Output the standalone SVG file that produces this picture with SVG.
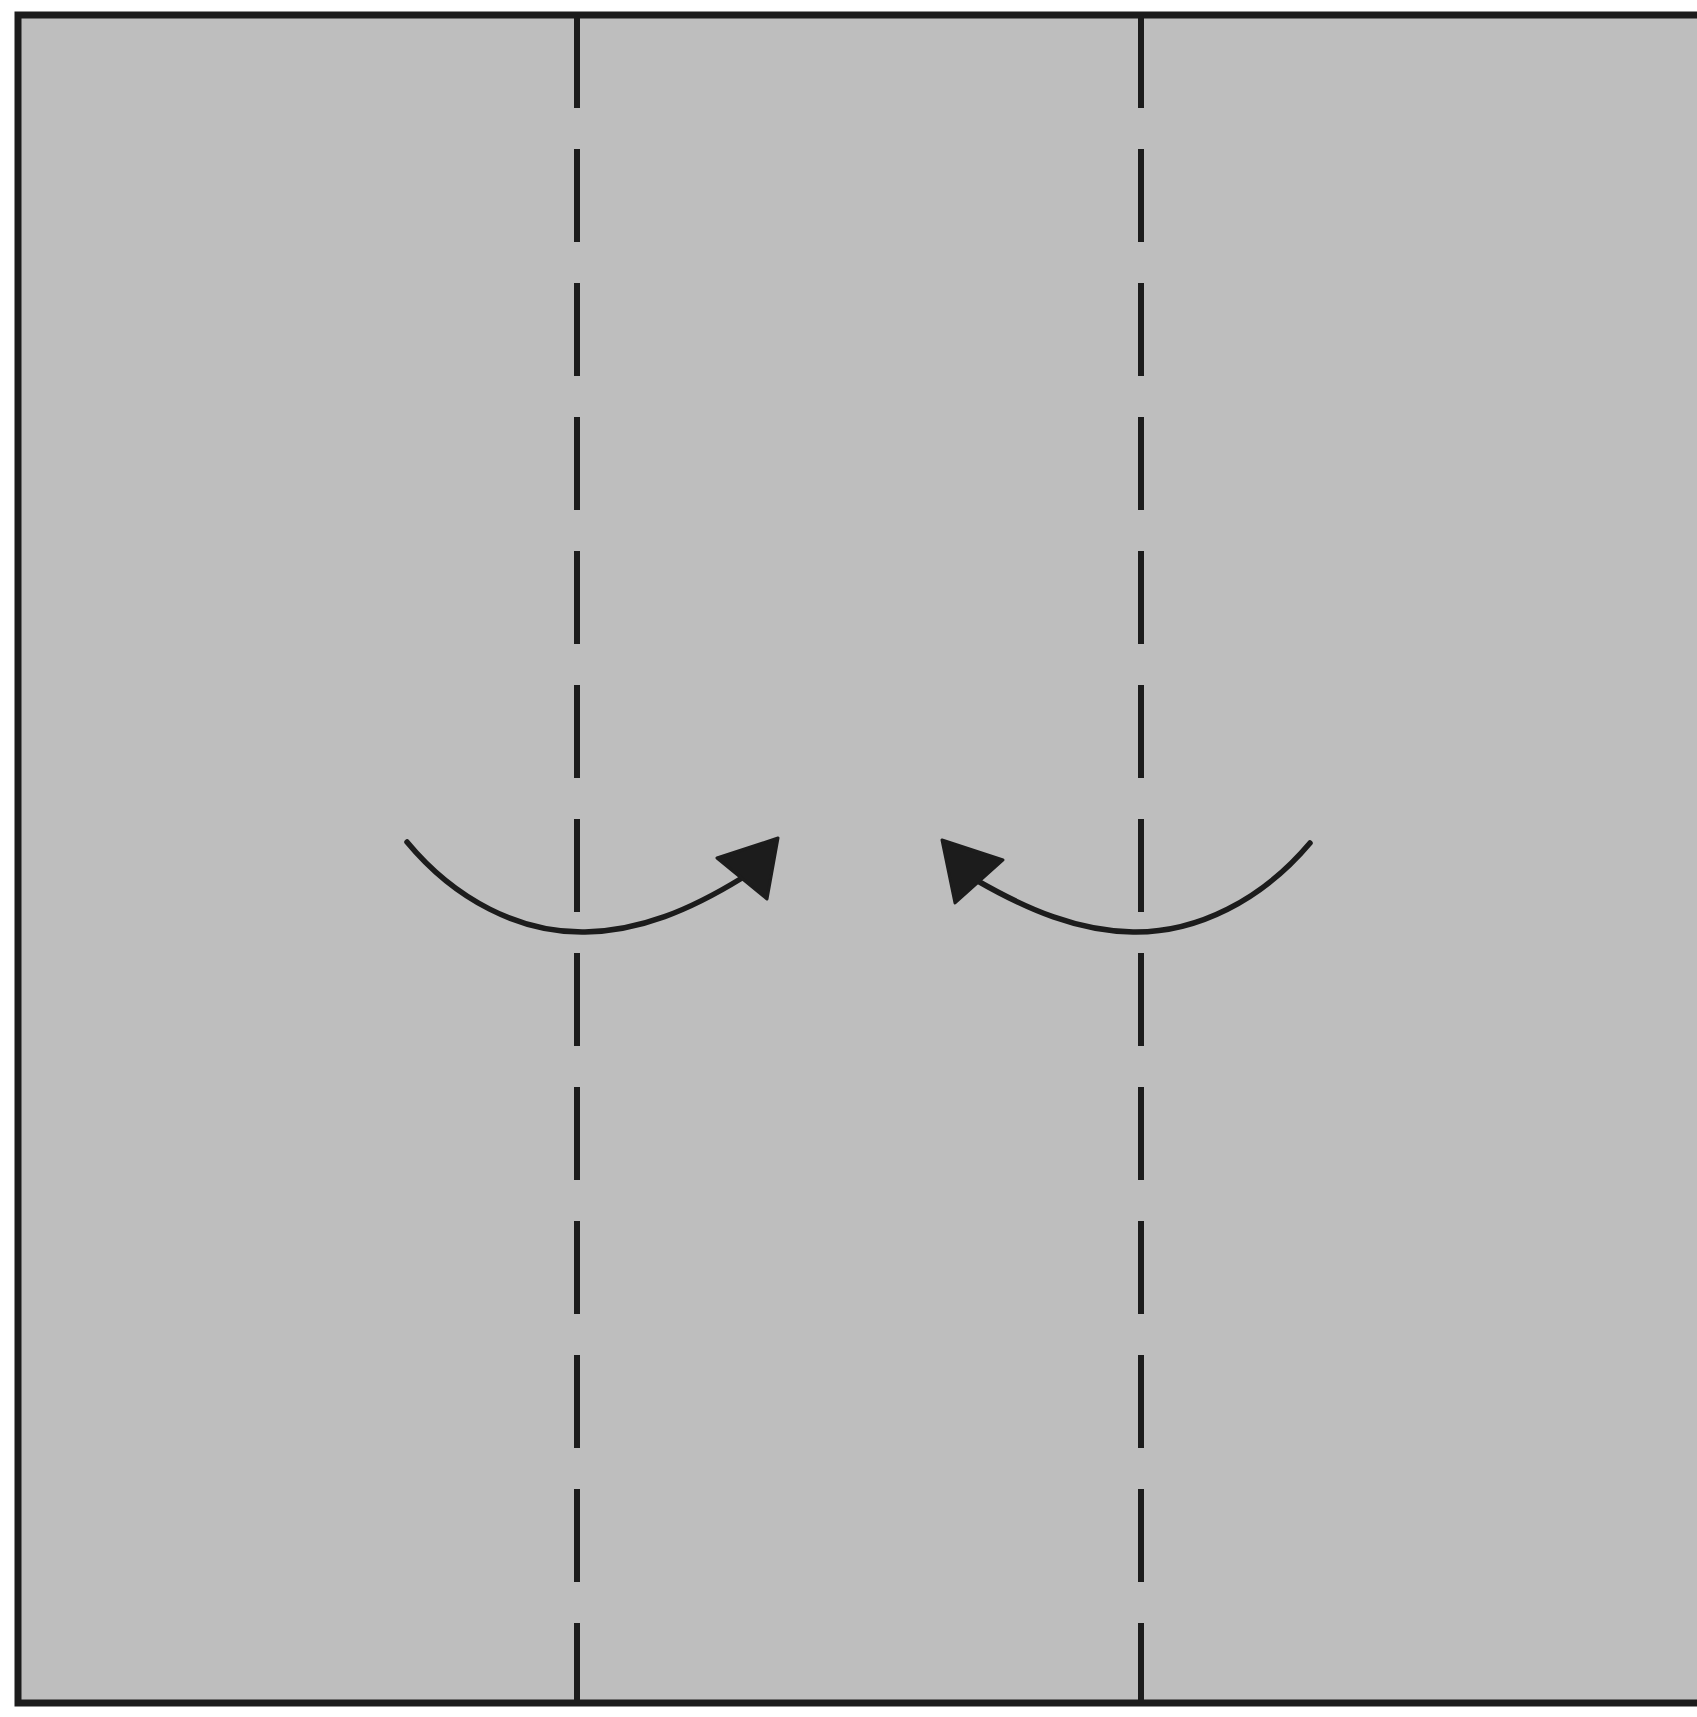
<svg xmlns="http://www.w3.org/2000/svg" width="1697" height="1717" viewBox="0 0 1697 1717">
  <style>
    .paper { fill: #bebebe; stroke: #1c1c1c; stroke-width: 7; }
    .fold { stroke: #1c1c1c; stroke-width: 6; stroke-dasharray: 93 41; fill: none; }
    .arrow { stroke: #1c1c1c; stroke-width: 5.5; fill: none; stroke-linecap: round; }
    .head { fill: #1c1c1c; stroke: #1c1c1c; stroke-width: 3; stroke-linejoin: round; }
  </style>
  <rect width="1697" height="1717" fill="#ffffff"/>
  <g id="paper">
    <rect class="paper" x="18" y="15" width="1690" height="1688"/>
  </g>
  <g id="fold-lines">
    <line class="fold" x1="577" y1="15" x2="577" y2="1703"/>
    <line class="fold" x1="1141" y1="15" x2="1141" y2="1703"/>
  </g>
  <g id="connectors">
    <g id="arrow-left">
      <path class="arrow" d="M407,842 C455,900 520,933 585,932 C640,931 690,910 742,878"/>
      <polygon class="head" points="778,838 717,858 767,899"/>
    </g>
    <g id="arrow-right">
      <path class="arrow" d="M1310,843 C1262,900 1197,933 1133,932 C1078,931 1028,910 976,880"/>
      <polygon class="head" points="942,840 1003,860 955,903"/>
    </g>
  </g>
</svg>
